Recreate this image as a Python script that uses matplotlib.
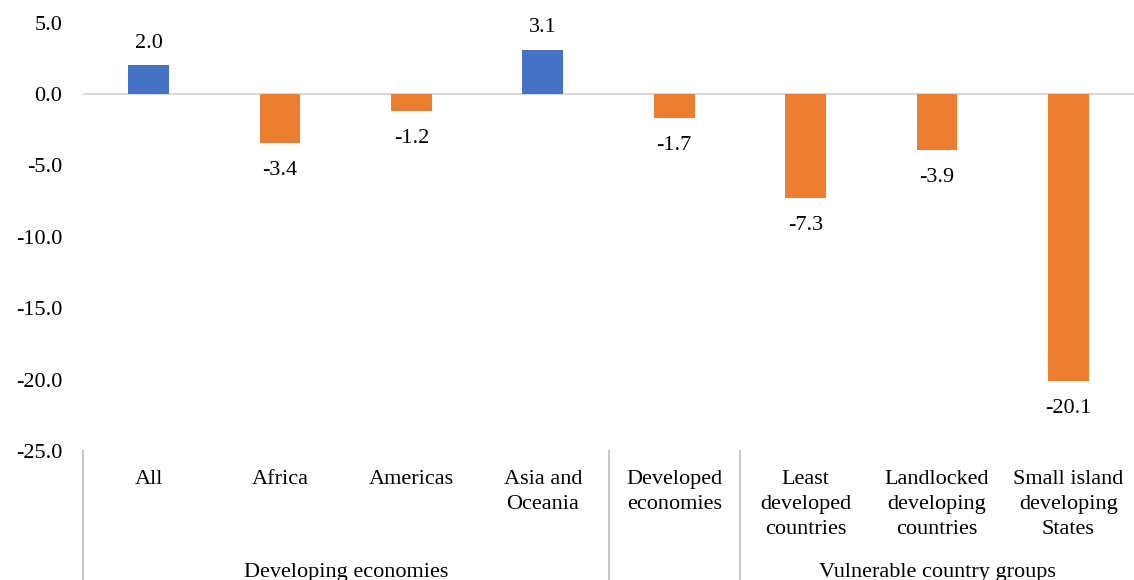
import numpy as np
import matplotlib.pyplot as plt
import matplotlib.transforms as mtransforms

plt.rcParams['font.family'] = ['Liberation Serif', 'DejaVu Serif']

# Data
categories = ['All', 'Africa', 'Americas', 'Asia and\nOceania', 'Developed\neconomies',
              'Least\ndeveloped\ncountries', 'Landlocked\ndeveloping\ncountries',
              'Small island\ndeveloping\nStates']
values = [2.0, -3.4, -1.2, 3.1, -1.7, -7.3, -3.9, -20.1]
groups = ['Developing economies', '', 'Vulnerable country groups']
group_spans = [(0, 3), (4, 4), (5, 7)]

blue = '#4472C4'
orange = '#ED7D31'
fs = 16

fig = plt.figure(figsize=(11.34, 5.8), dpi=100)
ax = fig.add_axes([0.0732, 0.2224, 0.9268, 0.7386])

x = np.arange(len(values))
colors = [blue if v >= 0 else orange for v in values]
ax.bar(x, values, width=0.31, color=colors, zorder=3)

for xi, v in zip(x, values):
    if v >= 0:
        ax.annotate(f'{v:.1f}', (xi, v), xytext=(0, 9), textcoords='offset points',
                    ha='center', va='bottom', fontsize=fs)
    else:
        ax.annotate(f'{v:.1f}', (xi, v), xytext=(0, -13), textcoords='offset points',
                    ha='center', va='top', fontsize=fs)

ax.set_xlim(-0.5, len(values) - 0.5)
ax.set_ylim(-25, 5)
ax.set_yticks(np.arange(-25, 6, 5))
ax.set_yticklabels([f'{t:.1f}' for t in np.arange(-25, 6, 5)], fontsize=fs)
ax.tick_params(axis='y', length=0, pad=15)
ax.set_xticks([])
for s in ax.spines.values():
    s.set_visible(False)
ax.axhline(0, color='#D9D9D9', lw=1.5, zorder=2)

trans = mtransforms.blended_transform_factory(ax.transData, ax.transAxes)
bottom = -0.2224 / 0.7386

# category labels
for xi, c in zip(x, categories):
    ax.text(xi, -0.045, c, transform=trans, ha='center', va='top', fontsize=fs,
            linespacing=1.42)

# group labels
for g, (a, b) in zip(groups, group_spans):
    if g:
        ax.text((a + b) / 2, bottom - 0.005, g, transform=trans, ha='center', va='bottom',
                fontsize=fs)

# separators
for xs in [-0.5, 3.5, 4.5]:
    ax.plot([xs, xs], [0, bottom], transform=trans, color='#C8C8C8', lw=1.5,
            clip_on=False)

fig.savefig('out.png', dpi=100)
